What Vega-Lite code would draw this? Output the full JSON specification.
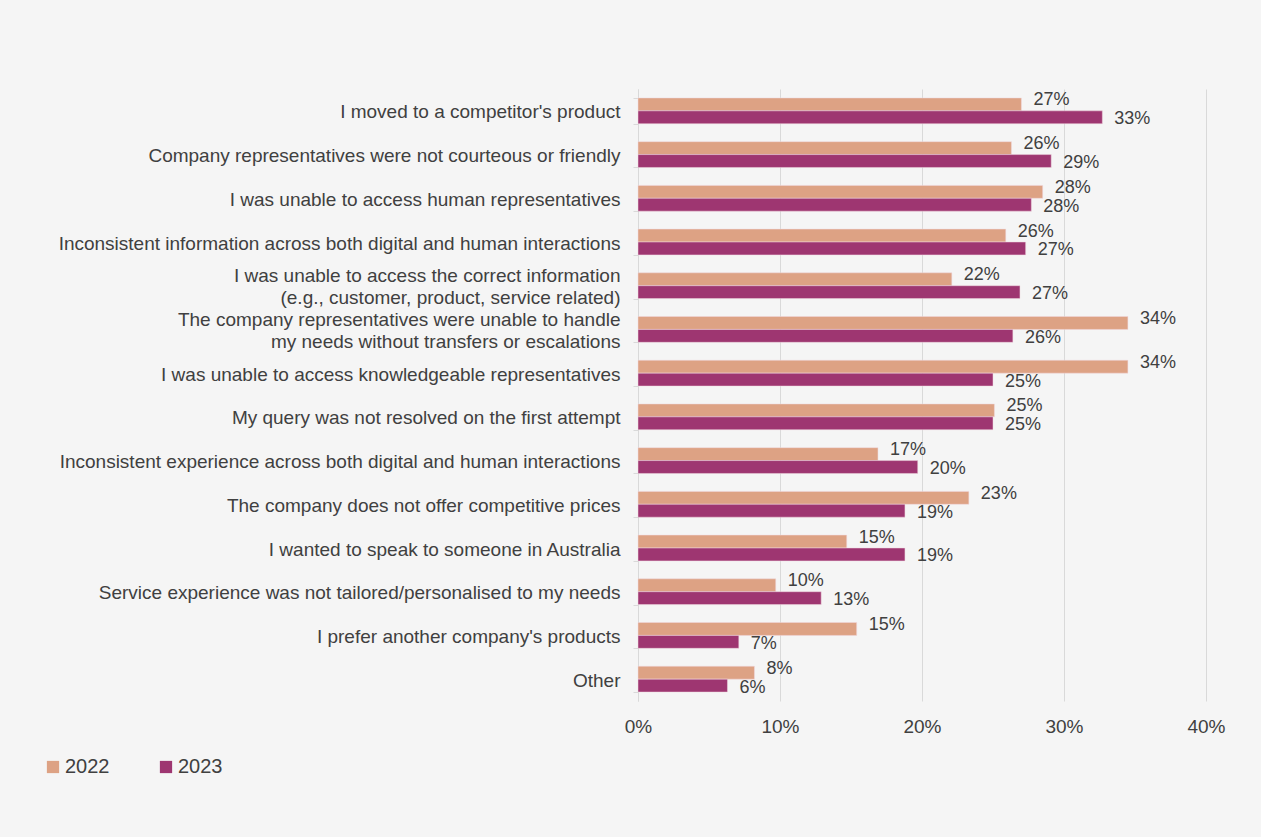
{
  "$schema": "https://vega.github.io/schema/vega-lite/v6.json",
  "autosize": {"type": "none"},
  "width": 568,
  "height": 612,
  "padding": {"left": 638, "top": 89, "right": 55, "bottom": 136},
  "background": "#f5f5f5",
  "config": {
    "view": {"stroke": null},
    "font": "Liberation Sans",
    "axis": {"labelFont": "Liberation Sans", "labelColor": "#404040"},
    "legend": {"labelFont": "Liberation Sans", "labelColor": "#404040"}
  },
  "data": {
    "values": [
      {"reason": "I moved to a competitor's product", "year": "2022", "value": 27.0, "label": "27%"},
      {"reason": "I moved to a competitor's product", "year": "2023", "value": 32.7, "label": "33%"},
      {"reason": "Company representatives were not courteous or friendly", "year": "2022", "value": 26.3, "label": "26%"},
      {"reason": "Company representatives were not courteous or friendly", "year": "2023", "value": 29.1, "label": "29%"},
      {"reason": "I was unable to access human representatives", "year": "2022", "value": 28.5, "label": "28%"},
      {"reason": "I was unable to access human representatives", "year": "2023", "value": 27.7, "label": "28%"},
      {"reason": "Inconsistent information across both digital and human interactions", "year": "2022", "value": 25.9, "label": "26%"},
      {"reason": "Inconsistent information across both digital and human interactions", "year": "2023", "value": 27.3, "label": "27%"},
      {"reason": "I was unable to access the correct information|(e.g., customer, product, service related)", "year": "2022", "value": 22.1, "label": "22%"},
      {"reason": "I was unable to access the correct information|(e.g., customer, product, service related)", "year": "2023", "value": 26.9, "label": "27%"},
      {"reason": "The company representatives were unable to handle|my needs without transfers or escalations", "year": "2022", "value": 34.5, "label": "34%"},
      {"reason": "The company representatives were unable to handle|my needs without transfers or escalations", "year": "2023", "value": 26.4, "label": "26%"},
      {"reason": "I was unable to access knowledgeable representatives", "year": "2022", "value": 34.5, "label": "34%"},
      {"reason": "I was unable to access knowledgeable representatives", "year": "2023", "value": 25.0, "label": "25%"},
      {"reason": "My query was not resolved on the first attempt", "year": "2022", "value": 25.1, "label": "25%"},
      {"reason": "My query was not resolved on the first attempt", "year": "2023", "value": 25.0, "label": "25%"},
      {"reason": "Inconsistent experience across both digital and human interactions", "year": "2022", "value": 16.9, "label": "17%"},
      {"reason": "Inconsistent experience across both digital and human interactions", "year": "2023", "value": 19.7, "label": "20%"},
      {"reason": "The company does not offer competitive prices", "year": "2022", "value": 23.3, "label": "23%"},
      {"reason": "The company does not offer competitive prices", "year": "2023", "value": 18.8, "label": "19%"},
      {"reason": "I wanted to speak to someone in Australia", "year": "2022", "value": 14.7, "label": "15%"},
      {"reason": "I wanted to speak to someone in Australia", "year": "2023", "value": 18.8, "label": "19%"},
      {"reason": "Service experience was not tailored/personalised to my needs", "year": "2022", "value": 9.7, "label": "10%"},
      {"reason": "Service experience was not tailored/personalised to my needs", "year": "2023", "value": 12.9, "label": "13%"},
      {"reason": "I prefer another company's products", "year": "2022", "value": 15.4, "label": "15%"},
      {"reason": "I prefer another company's products", "year": "2023", "value": 7.1, "label": "7%"},
      {"reason": "Other", "year": "2022", "value": 8.2, "label": "8%"},
      {"reason": "Other", "year": "2023", "value": 6.3, "label": "6%"}
    ]
  },
  "encoding": {
    "y": {
      "field": "reason",
      "type": "nominal",
      "sort": null,
      "scale": {"paddingInner": 0.41, "paddingOuter": 0.205},
      "axis": {
        "title": null,
        "labelExpr": "datum.value ? split(datum.value, '|') : ''",
        "labelLimit": 0,
        "labelFontSize": 19,
        "labelLineHeight": 22,
        "labelPadding": 13,
        "labelOffset": {"condition": {"test": "datum.value && indexof(datum.value, '|') >= 0", "value": -10}, "value": 1},
        "domainColor": "#d9d9d9",
        "tickColor": "#d9d9d9",
        "tickSize": 5,
        "tickBand": "extent"
      }
    },
    "x": {
      "field": "value",
      "type": "quantitative",
      "scale": {"domain": [0, 40], "nice": false},
      "axis": {
        "title": null,
        "values": [0, 10, 20, 30, 40],
        "labelExpr": "datum.value + '%'",
        "labelFontSize": 19,
        "labelFlush": false,
        "labelPadding": 16,
        "domain": false,
        "ticks": false,
        "grid": true,
        "gridColor": "#d9d9d9"
      }
    },
    "yOffset": {"field": "year", "type": "nominal", "scale": {"paddingInner": 0, "paddingOuter": 0}}
  },
  "layer": [
    {
      "mark": {"type": "bar", "stroke": "#f0d8e0", "strokeWidth": 0.5, "yOffset": 1},
      "encoding": {
        "color": {
          "field": "year",
          "type": "nominal",
          "scale": {"domain": ["2022", "2023"], "range": ["#dda284", "#9e3671"]},
          "legend": {
            "title": null,
            "orient": "none",
            "direction": "horizontal",
            "legendX": -595,
            "legendY": 668,
            "symbolType": "square",
            "symbolSize": 150,
            "symbolStrokeWidth": 0,
            "symbolOpacity": 1,
            "labelFontSize": 20,
            "labelOffset": 2,
            "columnPadding": 46
          }
        }
      }
    },
    {
      "transform": [{"filter": "datum.year == '2022'"}],
      "mark": {"type": "text", "align": "left", "baseline": "middle", "dx": 12, "dy": -4, "fontSize": 18, "fill": "#404040"},
      "encoding": {"text": {"field": "label"}}
    },
    {
      "transform": [{"filter": "datum.year == '2023'"}],
      "mark": {"type": "text", "align": "left", "baseline": "middle", "dx": 12, "dy": 2, "fontSize": 18, "fill": "#404040"},
      "encoding": {"text": {"field": "label"}}
    }
  ]
}
